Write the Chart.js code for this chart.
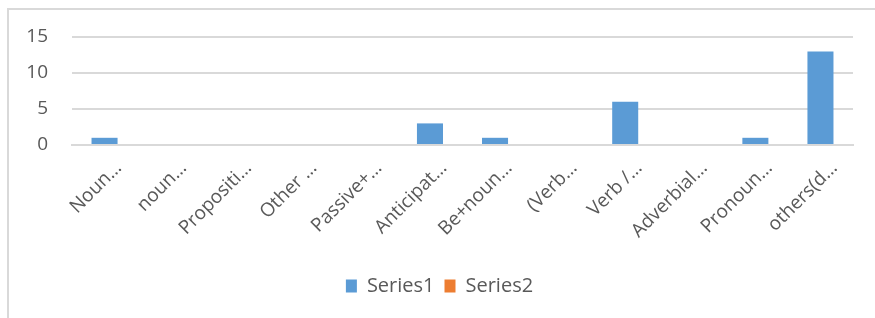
<!DOCTYPE html>
<html>
<head>
<meta charset="utf-8">
<script src="https://cdn.jsdelivr.net/npm/chart.js@4/dist/chart.umd.min.js"></script>
<style>
  html, body { margin: 0; padding: 0; background: #fff; overflow: hidden; }
  #frame { position: absolute; left: 7px; top: 8px; width: 900px; height: 340px;
           border-left: 2px solid #d9d9d9; border-top: 2px solid #d9d9d9; }
  #wrap { position: absolute; left: 0; top: 0; width: 875px; height: 318px; }
</style>
</head>
<body>
<div id="frame"></div>
<div id="wrap"><canvas id="c" width="875" height="318"></canvas></div>
<script>
const categories = ["Noun…", "noun…", "Propositi…", "Other …", "Passive+…", "Anticipat…",
                    "Be+noun…", "(Verb…", "Verb /…", "Adverbial…", "Pronoun…", "others(d…"];
const series1 = [1, 0, 0, 0, 0, 3, 1, 0, 6, 0, 1, 13];
const series2 = [0, 0, 0, 0, 0, 0, 0, 0, 0, 0, 0, 0];
const yTicks = [0, 5, 10, 15];

const FONT = "'Open Sans', 'Liberation Sans', sans-serif";
const TEXT = '#595959';

new Chart(document.getElementById('c'), {
  type: 'bar',
  data: {
    labels: categories,
    datasets: [
      { label: 'Series1', data: series1, backgroundColor: '#5B9BD5', grouped: false,
        barPercentage: 0.4, categoryPercentage: 1.0 },
      { label: 'Series2', data: series2, backgroundColor: '#ED7D31', grouped: false,
        barPercentage: 0.4, categoryPercentage: 1.0 }
    ]
  },
  options: {
    responsive: false,
    animation: false,
    devicePixelRatio: 1,
    layout: { padding: { left: 26, right: 22, top: 37, bottom: 12 } },
    plugins: {
      tooltip: { enabled: false },
      legend: {
        position: 'bottom',
        labels: {
          color: TEXT,
          font: { family: FONT, size: 20 },
          boxWidth: 11, boxHeight: 13,
          padding: 10
        }
      }
    },
    scales: {
      x: {
        grid: { display: false, drawTicks: false },
        border: { display: true, color: '#d9d9d9', width: 2 },
        ticks: {
          color: TEXT,
          font: { family: FONT, size: 19 },
          minRotation: 45, maxRotation: 45,
          autoSkip: false,
          padding: 12,
          labelOffset: 14
        },
        afterFit: (s) => { s.height = 121; s.paddingLeft = 0; s.paddingRight = 0; }
      },
      y: {
        min: 0, max: 15,
        afterBuildTicks: (s) => { s.ticks = yTicks.map(v => ({ value: v })); },
        grid: { color: '#d9d9d9', lineWidth: 2, drawTicks: false },
        border: { display: false },
        ticks: {
          color: TEXT,
          font: { family: FONT, size: 19 },
          padding: 24
        },
        afterFit: (s) => { s.width = 46; }
      }
    }
  }
});
</script>
</body>
</html>
